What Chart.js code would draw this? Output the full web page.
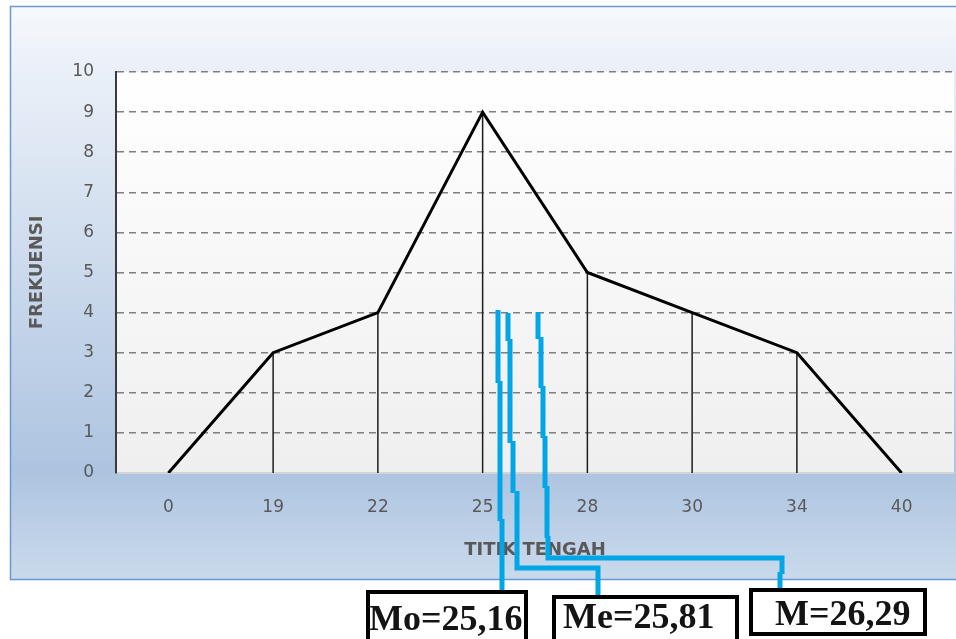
<!DOCTYPE html>
<html><head><meta charset="utf-8">
<script src="https://cdn.jsdelivr.net/npm/chart.js@4"></script>
<style>html,body{margin:0;padding:0;background:#fff;overflow:hidden}#wrap{position:relative;width:956px;height:639px}</style>
</head><body><div id="wrap"><canvas id="c"></canvas></div>
<script>
// ---- data ----
const categories = ['0', '19', '22', '25', '28', '30', '34', '40'];
const frequencies = [0, 3, 4, 9, 5, 4, 3, 0];
const yMin = 0;
const yMax = 10;
const yStep = 1;
const xTitle = 'TITIK TENGAH';
const yTitle = 'FREKUENSI';
const statLabels = ['Mo=25,16', 'Me=25,81', 'M=26,29'];

// ---- hand-drawn annotation geometry (canvas px): each stroke is a list of separate pieces ----
const pointerStrokes = [
  [ [[498,310],[498,383]], [[500,381],[500,521]], [[502,519],[502,593]] ],
  [ [[508,313],[508,341]], [[510,339],[510,443]], [[513,441],[513,493]], [[517,491],[517,568],[598,568],[598,598]] ],
  [ [[538,312],[538,339]], [[541,337],[541,388]], [[543,386],[543,438]], [[545,436],[545,488]], [[547,486],[547,538]], [[548,536],[548,558],[782,558],[782,574]], [[780,572],[780,591]] ]
];
const statBoxes = [
  {x:368, y:592, w:158, h:60, tx:369, ty:630},
  {x:554, y:597, w:183, h:60, tx:563, ty:628},
  {x:751, y:590, w:174, h:44, tx:775, ty:625}
];

const framePlugin = {
  id: 'frame',
  beforeDraw(chart) {
    const {ctx, chartArea: a} = chart;
    ctx.save();
    ctx.fillStyle = '#ffffff';
    ctx.fillRect(0, 0, chart.width, chart.height);
    const g = ctx.createLinearGradient(0, 6, 0, 580);
    g.addColorStop(0, '#f6f9fc');
    g.addColorStop(0.11, '#eaf0f8');
    g.addColorStop(0.81, '#adc4e0');
    g.addColorStop(1, '#cadaec');
    ctx.fillStyle = g;
    ctx.fillRect(10, 6, 960, 574);
    ctx.strokeStyle = '#6b98d3';
    ctx.lineWidth = 1.5;
    ctx.strokeRect(10.5, 6.5, 960, 573);
    const pg = ctx.createLinearGradient(0, a.top, 0, a.bottom);
    pg.addColorStop(0, '#ffffff');
    pg.addColorStop(1, '#efefef');
    ctx.fillStyle = pg;
    ctx.fillRect(a.left, a.top, a.right - a.left, a.bottom - a.top);
    ctx.restore();
  },
  beforeDatasetsDraw(chart) {
    const ctx = chart.ctx;
    const meta = chart.getDatasetMeta(0);
    const yb = chart.scales.y.getPixelForValue(yMin);
    ctx.save();
    ctx.strokeStyle = '#1e1e1e';
    ctx.lineWidth = 1.5;
    ctx.beginPath();
    meta.data.forEach((pt, i) => {
      if (frequencies[i] > 0) { ctx.moveTo(pt.x, pt.y); ctx.lineTo(pt.x, yb); }
    });
    ctx.stroke();
    ctx.restore();
  },
  afterDraw(chart) {
    const ctx = chart.ctx;
    ctx.save();
    ctx.strokeStyle = '#00a6e6';
    ctx.lineWidth = 5;
    ctx.lineJoin = 'miter';
    ctx.lineCap = 'butt';
    pointerStrokes.forEach(stroke => {
      stroke.forEach(p => {
        ctx.beginPath();
        p.forEach((q, i) => i ? ctx.lineTo(q[0], q[1]) : ctx.moveTo(q[0], q[1]));
        ctx.stroke();
      });
    });
    statBoxes.forEach((b, i) => {
      ctx.fillStyle = '#ffffff';
      ctx.fillRect(b.x, b.y, b.w, b.h);
      ctx.strokeStyle = '#000000';
      ctx.lineWidth = 4;
      ctx.strokeRect(b.x, b.y, b.w, b.h);
      ctx.fillStyle = '#141414';
      ctx.font = 'bold 36px "Liberation Serif", "Times New Roman", serif';
      ctx.textBaseline = 'alphabetic';
      ctx.textAlign = 'left';
      ctx.fillText(statLabels[i], b.tx, b.ty);
    });
    ctx.restore();
  }
};

const tickFont = {family: 'DejaVu Sans', size: 17};
const titleFont = {family: 'DejaVu Sans', size: 18, weight: 'bold'};

new Chart(document.getElementById('c'), {
  type: 'line',
  data: {
    labels: categories,
    datasets: [{
      data: frequencies,
      borderColor: '#000000',
      borderWidth: 3,
      fill: false,
      tension: 0,
      pointRadius: 0
    }]
  },
  options: {
    responsive: true,
    maintainAspectRatio: false,
    animation: false,
    layout: {padding: {top: 72, right: 2, left: 0, bottom: 0}},
    plugins: {legend: {display: false}, tooltip: {enabled: false}},
    scales: {
      x: {
        type: 'category',
        offset: true,
        grid: {display: false, drawTicks: false},
        border: {display: true, color: '#d4d4d4', width: 2},
        ticks: {color: '#595959', font: tickFont, padding: 24, maxRotation: 0, autoSkip: false},
        title: {display: true, text: xTitle, color: '#595959', font: titleFont, padding: {top: 0, bottom: 78}},
        afterFit(s) { s.height = 166; }
      },
      y: {
        min: yMin,
        max: yMax,
        ticks: {stepSize: yStep, color: '#595959', font: tickFont, padding: 22},
        grid: {
          drawTicks: false,
          lineWidth: 1.5,
          color: c => (c.tick && c.tick.value === yMin) ? 'rgba(0,0,0,0)' : '#7f7f7f'
        },
        border: {display: true, color: '#3a3a3a', width: 2, dash: [7, 5]},
        title: {display: true, text: yTitle, color: '#595959', font: titleFont, padding: {top: 27, bottom: 0}},
        afterFit(s) { s.width = 116; }
      }
    }
  },
  plugins: [framePlugin]
});
</script>
</body></html>
